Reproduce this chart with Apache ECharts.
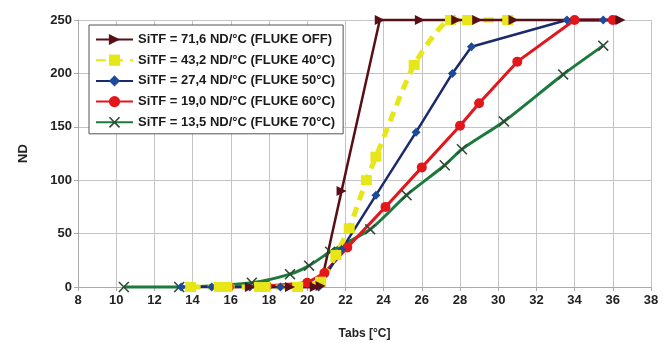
<!DOCTYPE html>
<html>
<head>
<meta charset="utf-8">
<script src="https://cdn.jsdelivr.net/npm/echarts@6/dist/echarts.min.js"></script>
<style>
  html, body { margin: 0; padding: 0; background: #fff; }
  #chart { width: 664px; height: 345px; }
</style>
</head>
<body>
<div id="chart"></div>
<script>
// Measured output level (ND) versus absolute temperature, one curve per FLUKE setting
const seriesNames = [
  'SiTF = 71,6 ND/°C (FLUKE OFF)',
  'SiTF = 43,2 ND/°C (FLUKE 40°C)',
  'SiTF = 27,4 ND/°C (FLUKE 50°C)',
  'SiTF = 19,0 ND/°C (FLUKE 60°C)',
  'SiTF = 13,5 ND/°C (FLUKE 70°C)'
];

// [Tabs °C, ND]
const flukeOff = [[17.0, 0], [19.1, 0], [20.4, 0], [20.7, 1], [21.8, 90], [23.8, 250], [25.9, 250], [27.8, 250], [28.9, 250], [30.8, 250], [36.4, 250]];
const fluke40 = [[13.9, 0], [15.4, 0], [15.8, 0], [17.5, 0], [17.8, 0], [19.5, 0], [20.7, 5], [21.5, 30], [22.2, 55], [23.1, 100], [23.6, 122], [25.6, 208], [27.5, 250], [28.4, 250], [30.5, 250]];
const fluke50 = [[13.4, 0], [15.0, 0], [17.0, 0], [18.6, 0], [20.6, 0], [21.8, 35], [23.6, 86], [25.7, 145], [27.6, 200], [28.6, 225], [33.6, 250], [35.5, 250]];
const fluke60 = [[15.9, 0], [17.9, 1], [20.0, 4], [20.9, 13], [22.1, 37], [24.1, 75], [26.0, 112], [28.0, 151], [29.0, 172], [31.0, 211], [34.0, 250], [36.0, 250]];
const fluke70 = [[10.4, 0], [13.3, 0], [17.1, 4], [19.1, 12], [20.1, 20], [21.2, 33], [23.3, 54], [25.2, 86], [27.2, 114], [28.1, 129], [30.3, 155], [33.4, 199], [35.5, 226]];

const xTicks = { min: 8, max: 38, step: 2 };
const yTicks = { min: 0, max: 250, step: 50 };

const crossPath = 'path://M0,1L1,0L5,4L9,0L10,1L6,5L10,9L9,10L5,6L1,10L0,9L4,5Z';
const boldFont = 'Liberation Sans';

const chart = echarts.init(document.getElementById('chart'), null, { renderer: 'canvas' });

chart.setOption({
  animation: false,
  backgroundColor: '#ffffff',
  grid: { left: 78, right: 13, top: 20, bottom: 46, containLabel: false },
  legend: {
    orient: 'vertical',
    left: 89,
    top: 25,
    padding: [8, 8, 5, 6],
    itemGap: 7.7,
    itemWidth: 37,
    itemHeight: 14,
    backgroundColor: '#ffffff',
    borderColor: '#555555',
    borderWidth: 1,
    textStyle: { fontFamily: boldFont, fontWeight: 'bold', fontSize: 13, color: '#1a1a1a' },
    data: seriesNames
  },
  xAxis: {
    type: 'value',
    min: xTicks.min, max: xTicks.max, interval: xTicks.step,
    name: 'Tabs [°C]',
    nameLocation: 'middle',
    nameGap: 41,
    nameTextStyle: { fontFamily: boldFont, fontWeight: 'bold', fontSize: 12, color: '#222' },
    axisLine: { lineStyle: { color: '#aaaaaa' } },
    axisTick: { show: true, length: 4, lineStyle: { color: '#aaaaaa' } },
    axisLabel: { fontFamily: boldFont, fontWeight: 'bold', fontSize: 13, color: '#222', margin: 7 },
    splitLine: { show: true, lineStyle: { color: '#c4c4c4', width: 1 } }
  },
  yAxis: {
    type: 'value',
    min: yTicks.min, max: yTicks.max, interval: yTicks.step,
    name: 'ND',
    nameLocation: 'middle',
    nameGap: 48,
    nameRotate: 90,
    nameTextStyle: { fontFamily: boldFont, fontWeight: 'bold', fontSize: 13, color: '#222' },
    axisLine: { show: true, lineStyle: { color: '#aaaaaa' } },
    axisTick: { show: true, length: 4, lineStyle: { color: '#aaaaaa' } },
    axisLabel: { fontFamily: boldFont, fontWeight: 'bold', fontSize: 13, color: '#222', margin: 6 },
    splitLine: { show: true, lineStyle: { color: '#c4c4c4', width: 1 } }
  },
  series: [
    {
      name: seriesNames[4], type: 'line', data: fluke70, smooth: 0.25, clip: false,
      symbol: crossPath, symbolSize: 11,
      lineStyle: { color: '#1c7a3c', width: 3 },
      itemStyle: { color: '#2f4a34' }
    },
    {
      name: seriesNames[3], type: 'line', data: fluke60, clip: false,
      symbol: 'circle', symbolSize: 10,
      lineStyle: { color: '#e3161c', width: 3 },
      itemStyle: { color: '#e3161c' }
    },
    {
      name: seriesNames[2], type: 'line', data: fluke50, clip: false,
      symbol: 'diamond', symbolSize: 9,
      lineStyle: { color: '#1b2a6e', width: 2.5 },
      itemStyle: { color: '#1e4a9a' }
    },
    {
      name: seriesNames[1], type: 'line', data: fluke40, smooth: 0.2, clip: false,
      symbol: 'rect', symbolSize: [11, 10],
      lineStyle: { color: '#e6e619', width: 5, type: [10, 7] },
      itemStyle: { color: '#e6e619' }
    },
    {
      name: seriesNames[0], type: 'line', data: flukeOff, clip: false,
      symbol: 'triangle', symbolRotate: -90, symbolSize: 10,
      lineStyle: { color: '#5a0f16', width: 2.5 },
      itemStyle: { color: '#5a0f16' }
    }
  ]
});
</script>
</body>
</html>
